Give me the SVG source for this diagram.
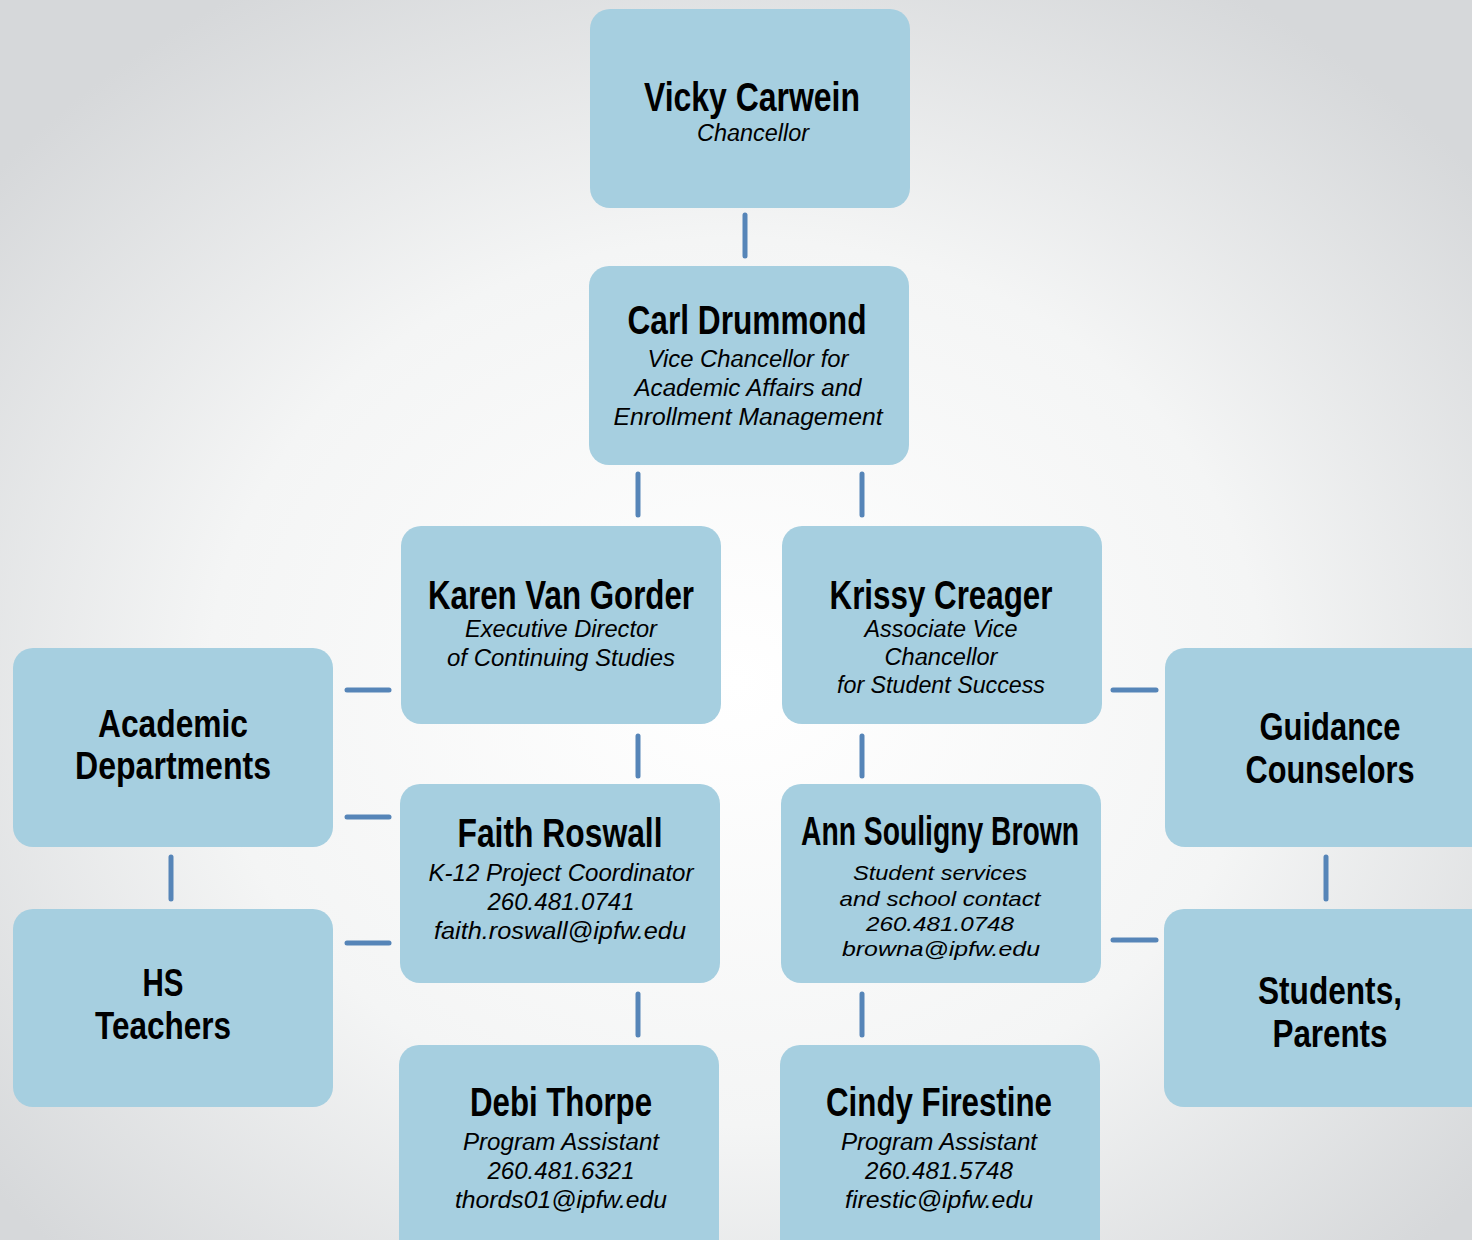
<svg xmlns="http://www.w3.org/2000/svg" width="1472" height="1240" viewBox="0 0 1472 1240">
<defs>
<radialGradient id="bg" cx="50%" cy="55%" r="65%">
<stop offset="0" stop-color="#ffffff"/>
<stop offset="0.55" stop-color="#f4f5f5"/>
<stop offset="1" stop-color="#d6d8da"/>
</radialGradient>
<style>
.box{fill:#a6cfe0}
.n{font-family:"Liberation Sans Narrow","Liberation Sans",Arial,sans-serif;font-weight:bold;font-size:40px;fill:#000;text-anchor:middle}
.g{font-family:"Liberation Sans Narrow","Liberation Sans",Arial,sans-serif;font-weight:bold;font-size:38px;fill:#000;text-anchor:middle}
.s{font-family:"Liberation Sans",Arial,sans-serif;font-style:italic;font-size:23px;fill:#000;text-anchor:middle}
.t{font-family:"Liberation Sans",Arial,sans-serif;font-style:italic;font-size:21px;fill:#000;text-anchor:middle}
.c{stroke:#5685b8;stroke-width:5;stroke-linecap:round;fill:none}
</style>
</defs>
<rect width="1472" height="1240" fill="url(#bg)"/>
<g id="connectors">
<line class="c" x1="745" y1="215" x2="745" y2="256"/>
<line class="c" x1="638" y1="474" x2="638" y2="515"/>
<line class="c" x1="862" y1="474" x2="862" y2="515"/>
<line class="c" x1="638" y1="736" x2="638" y2="776"/>
<line class="c" x1="862" y1="736" x2="862" y2="776"/>
<line class="c" x1="638" y1="994" x2="638" y2="1035"/>
<line class="c" x1="862" y1="994" x2="862" y2="1035"/>
<line class="c" x1="347" y1="690" x2="389" y2="690"/>
<line class="c" x1="347" y1="817" x2="389" y2="817"/>
<line class="c" x1="347" y1="943" x2="389" y2="943"/>
<line class="c" x1="1113" y1="690" x2="1156" y2="690"/>
<line class="c" x1="1113" y1="940" x2="1156" y2="940"/>
<line class="c" x1="171" y1="857" x2="171" y2="899"/>
<line class="c" x1="1326" y1="857" x2="1326" y2="899"/>
</g>
<g id="vicky">
<rect class="box" x="590" y="9" width="320" height="199" rx="20"/>
<text class="n" x="752" y="111" textLength="216" lengthAdjust="spacingAndGlyphs">Vicky Carwein</text>
<text class="s" x="753" y="141" textLength="112" lengthAdjust="spacingAndGlyphs">Chancellor</text>
</g>
<g id="carl">
<rect class="box" x="589" y="266" width="320" height="199" rx="20"/>
<text class="n" x="747" y="334" textLength="239" lengthAdjust="spacingAndGlyphs">Carl Drummond</text>
<text class="s" x="748" y="367" textLength="201" lengthAdjust="spacingAndGlyphs">Vice Chancellor for</text>
<text class="s" x="748" y="396" textLength="227" lengthAdjust="spacingAndGlyphs">Academic Affairs and</text>
<text class="s" x="748" y="425" textLength="269" lengthAdjust="spacingAndGlyphs">Enrollment Management</text>
</g>
<g id="karen">
<rect class="box" x="401" y="526" width="320" height="198" rx="20"/>
<text class="n" x="561" y="609" textLength="266" lengthAdjust="spacingAndGlyphs">Karen Van Gorder</text>
<text class="s" x="561" y="637" textLength="192" lengthAdjust="spacingAndGlyphs">Executive Director</text>
<text class="s" x="561" y="666" textLength="228" lengthAdjust="spacingAndGlyphs">of Continuing Studies</text>
</g>
<g id="krissy">
<rect class="box" x="782" y="526" width="320" height="198" rx="20"/>
<text class="n" x="941" y="609" textLength="223" lengthAdjust="spacingAndGlyphs">Krissy Creager</text>
<text class="s" x="941" y="637" textLength="153" lengthAdjust="spacingAndGlyphs">Associate Vice</text>
<text class="s" x="941" y="665" textLength="113" lengthAdjust="spacingAndGlyphs">Chancellor</text>
<text class="s" x="941" y="693" textLength="208" lengthAdjust="spacingAndGlyphs">for Student Success</text>
</g>
<g id="faith">
<rect class="box" x="400" y="784" width="320" height="199" rx="20"/>
<text class="n" x="560" y="847" textLength="205" lengthAdjust="spacingAndGlyphs">Faith Roswall</text>
<text class="s" x="561" y="881" textLength="265" lengthAdjust="spacingAndGlyphs">K-12 Project Coordinator</text>
<text class="s" x="561" y="910" textLength="147" lengthAdjust="spacingAndGlyphs">260.481.0741</text>
<text class="s" x="560" y="939" textLength="252" lengthAdjust="spacingAndGlyphs">faith.roswall@ipfw.edu</text>
</g>
<g id="ann">
<rect class="box" x="781" y="784" width="320" height="199" rx="20"/>
<text class="n" x="940" y="845" textLength="278" lengthAdjust="spacingAndGlyphs">Ann Souligny Brown</text>
<text class="t" x="940" y="880" textLength="174" lengthAdjust="spacingAndGlyphs">Student services</text>
<text class="t" x="940" y="906" textLength="201" lengthAdjust="spacingAndGlyphs">and school contact</text>
<text class="t" x="940" y="931" textLength="148" lengthAdjust="spacingAndGlyphs">260.481.0748</text>
<text class="t" x="941" y="956" textLength="198" lengthAdjust="spacingAndGlyphs">browna@ipfw.edu</text>
</g>
<g id="debi">
<rect class="box" x="399" y="1045" width="320" height="215" rx="20"/>
<text class="n" x="561" y="1116" textLength="182" lengthAdjust="spacingAndGlyphs">Debi Thorpe</text>
<text class="s" x="561" y="1150" textLength="196" lengthAdjust="spacingAndGlyphs">Program Assistant</text>
<text class="s" x="561" y="1179" textLength="147" lengthAdjust="spacingAndGlyphs">260.481.6321</text>
<text class="s" x="561" y="1208" textLength="212" lengthAdjust="spacingAndGlyphs">thords01@ipfw.edu</text>
</g>
<g id="cindy">
<rect class="box" x="780" y="1045" width="320" height="215" rx="20"/>
<text class="n" x="939" y="1116" textLength="226" lengthAdjust="spacingAndGlyphs">Cindy Firestine</text>
<text class="s" x="939" y="1150" textLength="196" lengthAdjust="spacingAndGlyphs">Program Assistant</text>
<text class="s" x="939" y="1179" textLength="148" lengthAdjust="spacingAndGlyphs">260.481.5748</text>
<text class="s" x="939" y="1208" textLength="188" lengthAdjust="spacingAndGlyphs">firestic@ipfw.edu</text>
</g>
<g id="academic">
<rect class="box" x="13" y="648" width="320" height="199" rx="20"/>
<text class="g" x="173" y="737" textLength="150" lengthAdjust="spacingAndGlyphs">Academic</text>
<text class="g" x="173" y="779" textLength="196" lengthAdjust="spacingAndGlyphs">Departments</text>
</g>
<g id="hs">
<rect class="box" x="13" y="909" width="320" height="198" rx="20"/>
<text class="g" x="163" y="996" textLength="41" lengthAdjust="spacingAndGlyphs">HS</text>
<text class="g" x="163" y="1039" textLength="136" lengthAdjust="spacingAndGlyphs">Teachers</text>
</g>
<g id="guidance">
<rect class="box" x="1165" y="648" width="330" height="199" rx="20"/>
<text class="g" x="1330" y="740" textLength="141" lengthAdjust="spacingAndGlyphs">Guidance</text>
<text class="g" x="1330" y="783" textLength="169" lengthAdjust="spacingAndGlyphs">Counselors</text>
</g>
<g id="students">
<rect class="box" x="1164" y="909" width="330" height="198" rx="20"/>
<text class="g" x="1330" y="1004" textLength="144" lengthAdjust="spacingAndGlyphs">Students,</text>
<text class="g" x="1330" y="1047" textLength="115" lengthAdjust="spacingAndGlyphs">Parents</text>
</g>
</svg>
